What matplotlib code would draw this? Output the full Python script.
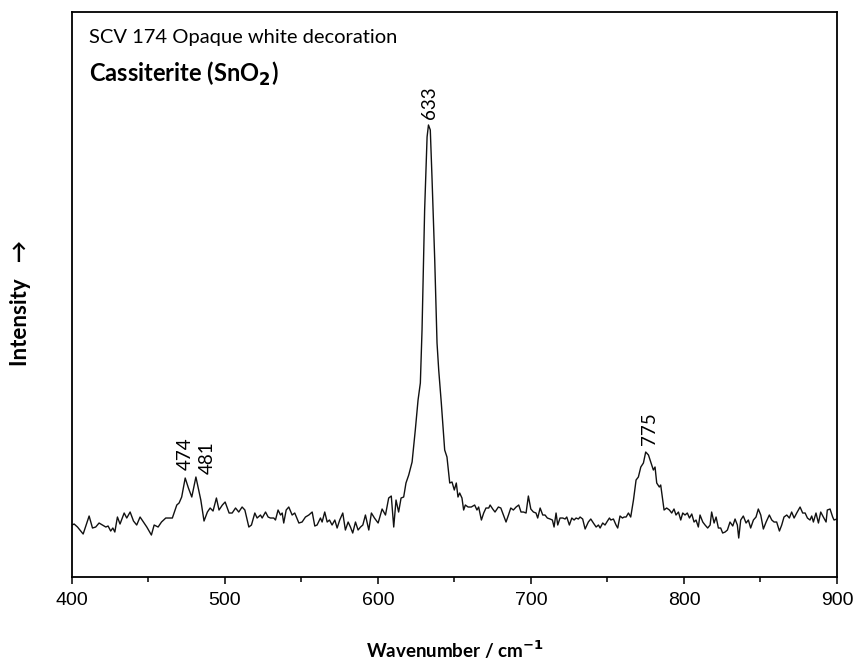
import numpy as np
import matplotlib.pyplot as plt
from matplotlib.ticker import MultipleLocator

plt.rcParams["font.family"] = ["Lato", "DejaVu Sans"]

# Raman spectrum, SCV 174 opaque white decoration (arb. intensity units)
wavenumber = [
    400.0, 401.4, 403.6, 407.3, 411.2, 413.4, 415.5, 417.7, 419.9, 422.1,
    423.6, 425.3, 426.7, 428.0, 429.7, 431.4, 434.1, 435.8, 438.0, 440.2,
    442.3, 444.5, 446.7, 448.9, 451.9, 453.7, 456.3, 458.5, 461.3, 464.1,
    465.6, 468.5, 470.0, 471.7, 474.0, 476.1, 478.3, 481.0, 484.2, 486.3,
    488.5, 490.3, 492.2, 494.4, 496.1, 498.3, 500.1, 502.7, 504.7, 506.9,
    509.0, 511.2, 513.0, 515.6, 517.3, 519.5, 521.0, 523.2, 524.3, 526.5,
    528.2, 529.7, 531.9, 533.0, 534.7, 536.3, 537.4, 538.4, 540.0, 541.7,
    543.9, 545.6, 548.3, 550.4, 552.6, 554.8, 557.0, 558.7, 560.2, 562.4,
    563.5, 565.2, 566.8, 568.3, 570.0, 571.8, 573.3, 575.0, 577.0, 578.7,
    580.5, 582.0, 583.5, 585.3, 587.0, 588.6, 590.1, 591.8, 594.0, 595.7,
    597.7, 600.1, 602.7, 604.9, 607.0, 608.7, 610.3, 611.8, 613.5, 615.1,
    616.8, 618.3, 620.1, 622.3, 624.4, 626.2, 627.7, 628.8, 630.5, 632.1,
    633.0, 634.2, 635.3, 637.1, 638.6, 639.7, 641.4, 643.6, 645.1, 646.9,
    648.4, 649.9, 651.2, 652.3, 653.4, 654.9, 656.0, 657.1, 658.9, 661.0,
    663.2, 664.7, 665.8, 667.6, 669.1, 670.6, 672.4, 673.3, 675.0, 676.5,
    678.7, 680.3, 682.0, 683.7, 685.3, 686.8, 688.5, 690.3, 692.0, 693.5,
    695.1, 696.8, 698.3, 699.9, 701.6, 703.3, 704.4, 706.0, 707.7, 709.2,
    710.7, 712.5, 714.0, 715.1, 716.4, 717.5, 719.0, 720.8, 722.3, 723.4,
    725.1, 726.7, 728.2, 729.5, 731.0, 732.1, 733.8, 735.4, 737.5, 739.1,
    740.8, 742.6, 744.1, 745.2, 746.9, 748.4, 750.0, 751.3, 752.2, 753.9,
    755.6, 756.7, 758.2, 759.8, 760.9, 762.2, 763.7, 765.2, 767.0, 768.7,
    770.2, 771.8, 773.5, 775.0, 776.8, 778.3, 780.0, 781.1, 782.2, 783.9,
    784.8, 787.0, 788.7, 790.5, 792.0, 793.5, 794.8, 796.4, 797.9, 799.2,
    800.7, 802.2, 803.6, 805.1, 806.6, 807.9, 809.4, 810.5, 812.3, 813.8,
    815.5, 817.1, 818.1, 819.7, 821.0, 822.5, 824.0, 825.3, 826.9, 828.4,
    830.1, 831.9, 833.4, 834.9, 835.8, 837.1, 838.8, 840.6, 842.1, 843.6,
    845.4, 847.1, 848.6, 850.2, 851.9, 853.7, 855.8, 857.4, 858.9, 860.6,
    862.4, 863.9, 865.4, 867.2, 868.9, 870.4, 872.0, 873.7, 875.9, 877.6,
    879.2, 880.7, 882.4, 883.5, 884.6, 886.3, 887.9, 889.4, 891.1, 892.9,
    893.7, 895.5, 897.2, 898.1, 900.0,
]
intensity = [
    52, 53, 50, 43, 61, 49, 50, 54, 52, 50,
    51, 46, 49, 45, 60, 53, 64, 59, 65, 56,
    52, 60, 55, 50, 42, 52, 50, 55, 59, 59,
    59, 72, 74, 80, 99, 89, 80, 100, 77, 56,
    65, 69, 66, 79, 67, 72, 75, 64, 64, 69,
    65, 70, 67, 50, 52, 64, 59, 62, 59, 65,
    60, 59, 59, 57, 67, 62, 64, 54, 67, 70,
    62, 64, 54, 55, 60, 62, 65, 51, 52, 59,
    55, 65, 55, 57, 52, 57, 49, 57, 64, 47,
    55, 50, 44, 55, 47, 50, 52, 62, 47, 64,
    59, 54, 68, 62, 79, 81, 50, 77, 65, 79,
    80, 94, 102, 115, 147, 177, 194, 247, 367, 440,
    452, 447, 400, 317, 234, 207, 174, 127, 120, 94,
    95, 87, 94, 80, 84, 79, 67, 72, 70, 70,
    72, 67, 70, 57, 64, 69, 69, 72, 68, 65,
    70, 69, 62, 55, 62, 69, 67, 70, 72, 65,
    65, 64, 81, 68, 65, 64, 59, 69, 62, 62,
    59, 58, 57, 50, 64, 52, 59, 59, 58, 60,
    52, 59, 57, 59, 58, 60, 58, 48, 55, 58,
    54, 50, 52, 49, 54, 52, 56, 59, 57, 58,
    52, 49, 61, 59, 60, 60, 64, 60, 77, 97,
    100, 110, 114, 125, 122, 115, 107, 110, 94, 90,
    92, 67, 69, 67, 64, 68, 62, 65, 57, 64,
    62, 64, 59, 63, 55, 57, 50, 62, 55, 52,
    49, 52, 65, 54, 60, 49, 49, 44, 45, 47,
    55, 51, 58, 52, 39, 57, 61, 54, 57, 49,
    57, 60, 68, 62, 48, 55, 62, 57, 55, 55,
    46, 52, 60, 62, 59, 65, 59, 64, 70, 64,
    64, 59, 57, 61, 55, 64, 54, 65, 60, 55,
    67, 68, 60, 57, 58,
]

# labelled band positions
peak_pos = [474.0, 481.0, 633.0, 775.0]
peak_text = ["474", "481", "633", "775"]
label_offset = [(0, 6), (8, 2), (1, 4), (3, 5)]  # points

fig = plt.figure(figsize=(8.57, 6.65), dpi=100)
ax = fig.add_axes([0.084, 0.1323, 0.8926, 0.8497])

ax.plot(wavenumber, intensity, color="#111111", lw=1.0)

for pos, txt, off in zip(peak_pos, peak_text, label_offset):
    y = intensity[wavenumber.index(pos)]
    ax.annotate(txt, xy=(pos, y), xytext=off, textcoords="offset points",
                rotation=90, ha="center", va="bottom", fontsize=13.5)

ax.set_xlim(400, 900)
ax.set_ylim(0, 565)
ax.xaxis.set_major_locator(MultipleLocator(100))
ax.xaxis.set_minor_locator(MultipleLocator(50))
ax.set_yticks([])
ax.tick_params(axis="x", which="major", direction="out", length=5, width=1.1,
               labelsize=14, pad=6)
ax.tick_params(axis="x", which="minor", direction="out", length=3.5, width=1.1)
for lbl in ax.get_xticklabels():
    lbl.set_family("Liberation Sans")
for sp in ax.spines.values():
    sp.set_linewidth(1.3)

ax.set_xlabel("Wavenumber / cm$^{\\mathbf{-1}}$", fontsize=13.5, fontweight="bold",
              labelpad=21)
ax.set_ylabel("Intensity   →", fontsize=16, fontweight="bold")
ax.yaxis.set_label_coords(-0.053, 0.485)

ax.text(0.022, 0.955, "SCV 174 Opaque white decoration", transform=ax.transAxes,
        fontsize=14.5, va="center", ha="left")
ax.text(0.022, 0.89, "Cassiterite (SnO$_\\mathbf{2}$)", transform=ax.transAxes,
        fontsize=17, fontweight="bold", va="center", ha="left")

fig.savefig("out.png", dpi=100)
